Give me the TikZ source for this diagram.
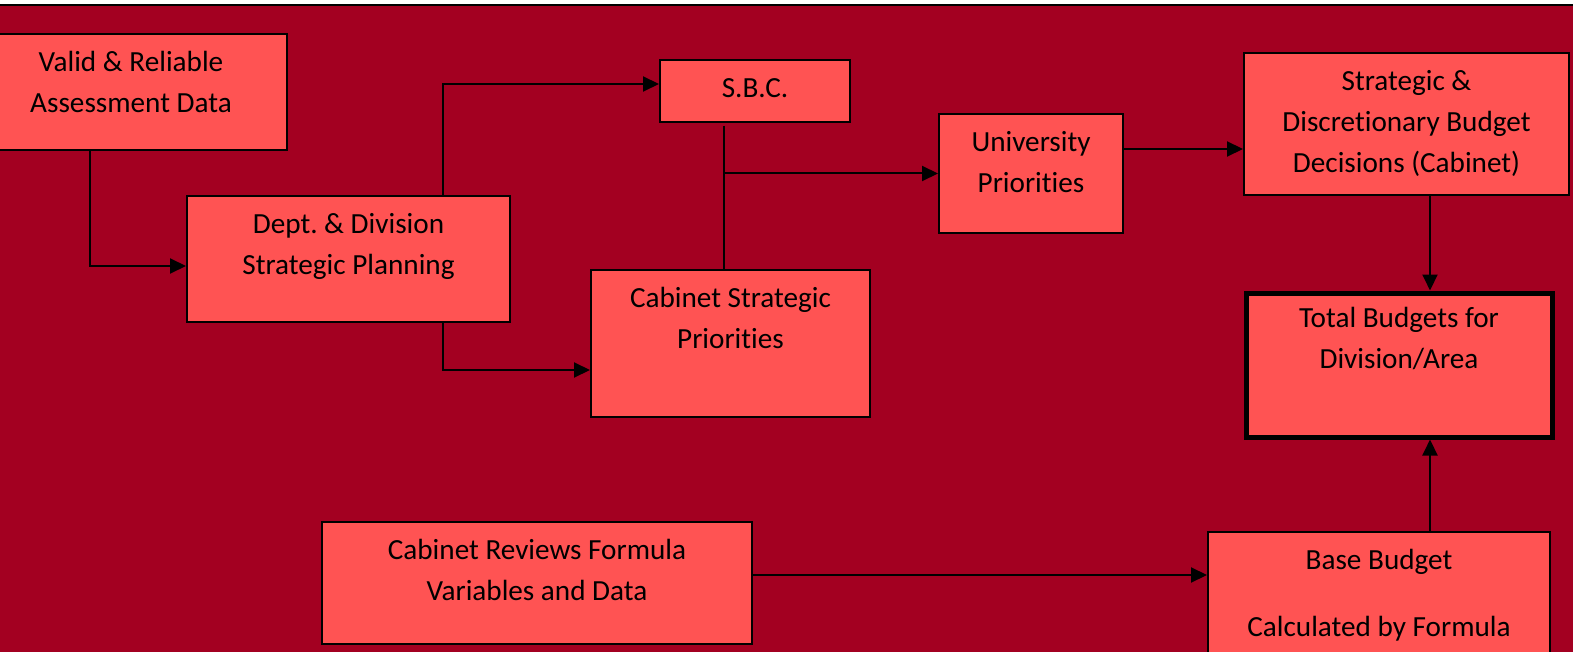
\documentclass[tikz,border=0pt]{standalone}
\usepackage{fontspec}
\setmainfont{Carlito}[RawFeature={-liga;-clig;-calt;-dlig}]
\usetikzlibrary{arrows.meta}
\frenchspacing
\definecolor{pagebg}{RGB}{163,0,33}
\definecolor{boxfill}{RGB}{255,83,83}
\tikzset{
  box/.style={draw=black, fill=boxfill, line width=2pt, inner sep=0pt, anchor=north west},
  totalbox/.style={box, line width=5pt},
  txt/.style={anchor=north, inner sep=0pt, align=center, text=black,
    font=\fontsize{29.2}{41}\selectfont},
  link/.style={draw=black, line width=2pt},
  arr/.style={link, -{Triangle[length=16pt,width=15pt]}}
}
\begin{document}
\begin{tikzpicture}[x=1pt,y=-1pt]
\useasboundingbox (0,0) rectangle (1573,652);
% page background with the rule along its top
\fill[white] (0,0) rectangle (1573,652);
\fill[pagebg] (0,6) rectangle (1573,652);
\draw[line width=2pt] (0,5) -- (1573,5);

% boxes
\node[box, minimum width=312, minimum height=116] (valid) at (-26,33) {};
\node[box, minimum width=323, minimum height=126] (dept) at (186,195) {};
\node[box, minimum width=190, minimum height=62] (sbc) at (659,59) {};
\node[box, minimum width=279, minimum height=147] (cab) at (590,269) {};
\node[box, minimum width=184, minimum height=119] (univ) at (938,113) {};
\node[box, minimum width=325, minimum height=142] (strat) at (1243,52) {};
\node[totalbox, minimum width=306, minimum height=144] (total) at (1243.5,290.5) {};
\node[box, minimum width=342, minimum height=149] (base) at (1207,531) {};
\node[box, minimum width=430, minimum height=122] (cabrev) at (321,521) {};

% box texts
\node[txt] (validtxt) at ([yshift=-9.8pt]valid.north) {\strut Valid \& Reliable\\Assessment Data};
\node[txt] (depttxt) at ([yshift=-9.8pt]dept.north) {\strut Dept. \& Division\\Strategic Planning};
\node[txt] (sbctxt) at ([yshift=-9.8pt]sbc.north) {\strut S.B.C.};
\node[txt] (cabtxt) at ([yshift=-9.8pt]cab.north) {\strut Cabinet Strategic\\Priorities};
\node[txt] (univtxt) at ([yshift=-9.8pt]univ.north) {\strut University\\Priorities};
\node[txt] (strattxt) at ([yshift=-9.8pt]strat.north) {\strut Strategic \&\\Discretionary Budget\\Decisions (Cabinet)};
\node[txt] (totaltxt) at ([yshift=-8.3pt]total.north) {\strut Total Budgets for\\Division/Area};
\node[txt] (basetxt) at ([yshift=-9.8pt]base.north) {\strut Base Budget\\[26pt]Calculated by Formula};
\node[txt] (cabrevtxt) at ([yshift=-9.8pt]cabrev.north) {\strut Cabinet Reviews Formula\\Variables and Data};

% connectors
\coordinate (v1) at ([xshift=116pt]valid.south west);
\draw[arr] (v1) |- ([yshift=-7pt]dept.west);
\coordinate (d1) at ([xshift=257pt]dept.north west);
\draw[arr] (d1) |- ([yshift=7pt]sbc.west);
\coordinate (d2) at ([xshift=257pt]dept.south west);
\draw[arr] (d2) |- ([yshift=-26.5pt]cab.west);
\coordinate (s1) at ([xshift=65pt,yshift=-3pt]sbc.south west);
\coordinate (s2) at ([xshift=134pt]cab.north west);
\draw[link] (s1) -- (s2);
\coordinate (j) at (s1 |- univ.west);
\draw[arr] (j) -- (univ.west);
\coordinate (u1) at ([yshift=24.5pt]univ.east);
\draw[arr] (u1) -- (u1 -| strat.west);
\coordinate (t1) at ([xshift=187pt]strat.south west);
\draw[arr] (t1) -- (t1 |- total.north);
\coordinate (b1) at ([xshift=223pt]base.north west);
\draw[arr] (b1) -- (b1 |- total.south);
\coordinate (r1) at ([yshift=8pt]cabrev.east);
\draw[arr] (r1) -- (r1 -| base.west);
\end{tikzpicture}
\end{document}
